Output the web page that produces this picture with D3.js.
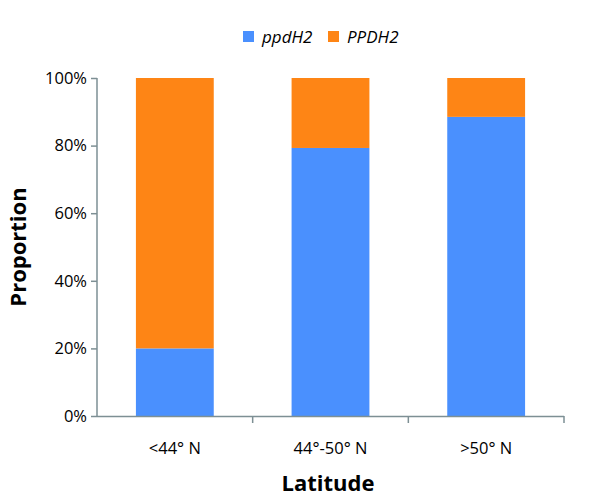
<!DOCTYPE html>
<html>
<head>
<meta charset="utf-8">
<script src="https://cdn.jsdelivr.net/npm/d3@7"></script>
<style>
  body { margin: 0; background: #fff; }
  text { font-family: "Open Sans", sans-serif; fill: #000; }
</style>
</head>
<body>
<section></section>
<script>
// data
const categories = ["<44° N", "44°-50° N", ">50° N"];
const seriesNames = ["ppdH2", "PPDH2"];
const ppdH2 = [0.2, 0.793, 0.885];
const PPDH2 = [0.8, 0.207, 0.115];
const yTicks = [0, 0.2, 0.4, 0.6, 0.8, 1.0];
const colors = ["#4a90fe", "#fe8515"];

const width = 600;
const height = 503;
const axisColor = "#7d8f94";

const svg = d3
  .select("section")
  .append("svg")
  .attr("width", width)
  .attr("height", height);

const x = d3.scaleBand().domain(categories).range([97, 564]).paddingInner(0.5).paddingOuter(0.25);
const y = d3.scaleLinear().domain([0, 1]).range([416, 78]);

const rows = categories.map((c, i) => ({ cat: c, ppdH2: ppdH2[i], PPDH2: PPDH2[i] }));
const stacked = d3.stack().keys(seriesNames)(rows);

svg
  .selectAll("g.series")
  .data(stacked)
  .enter()
  .append("g")
  .attr("class", "series")
  .style("fill", (d, i) => colors[i])
  .selectAll("rect")
  .data((d) => d)
  .enter()
  .append("rect")
  .attr("x", (d) => x(d.data.cat))
  .attr("width", x.bandwidth())
  .attr("y", (d) => y(Math.min(d[1], 1)))
  .attr("height", (d) => y(d[0]) - y(Math.min(d[1], 1)));

// y axis
const yAxis = d3
  .axisLeft(y)
  .tickValues(yTicks)
  .tickFormat(d3.format(".0%"))
  .tickSize(6)
  .tickPadding(4);
const gy = svg.append("g").attr("transform", "translate(97,0)").call(yAxis);
gy.select(".domain").attr("stroke", axisColor).attr("stroke-width", 1.5).attr("d", "M0,78V416");
gy.selectAll(".tick line").attr("stroke", axisColor).attr("stroke-width", 1.5);
gy.selectAll(".tick text").style("font-size", "16.5px");

// x axis, ticks at category boundaries
const bounds = d3.range(categories.length + 1).map((i) => 97 + i * ((564 - 97) / categories.length));
const gx = svg.append("g");
gx.append("line")
  .attr("x1", 97)
  .attr("x2", 564)
  .attr("y1", 416.5)
  .attr("y2", 416.5)
  .attr("stroke", axisColor)
  .attr("stroke-width", 1.5);
gx.selectAll("line.tk")
  .data(bounds.slice(1))
  .enter()
  .append("line")
  .attr("class", "tk")
  .attr("x1", (d) => d)
  .attr("x2", (d) => d)
  .attr("y1", 416)
  .attr("y2", 423)
  .attr("stroke", axisColor)
  .attr("stroke-width", 1.5);
gx.selectAll("text")
  .data(categories)
  .enter()
  .append("text")
  .attr("x", (d) => x(d) + x.bandwidth() / 2)
  .attr("y", 454)
  .attr("text-anchor", "middle")
  .style("font-size", "16.5px")
  .text((d) => d);

// axis titles
svg
  .append("text")
  .attr("x", 328)
  .attr("y", 491)
  .attr("text-anchor", "middle")
  .style("font-size", "22px")
  .style("font-weight", "bold")
  .text("Latitude");
svg
  .append("text")
  .attr("transform", "translate(26,247) rotate(-90)")
  .attr("text-anchor", "middle")
  .style("font-size", "22px")
  .style("font-weight", "bold")
  .text("Proportion");

// legend
const legendX = [243, 328];
const legend = svg.append("g");
legend
  .selectAll("rect")
  .data(seriesNames)
  .enter()
  .append("rect")
  .attr("x", (d, i) => legendX[i])
  .attr("y", 31)
  .attr("width", 11)
  .attr("height", 11)
  .style("fill", (d, i) => colors[i]);
legend
  .selectAll("text")
  .data(seriesNames)
  .enter()
  .append("text")
  .attr("x", (d, i) => legendX[i] + 19)
  .attr("y", 43)
  .style("font-size", "17px")
  .style("font-style", "italic")
  .text((d) => d);
</script>
</body>
</html>
